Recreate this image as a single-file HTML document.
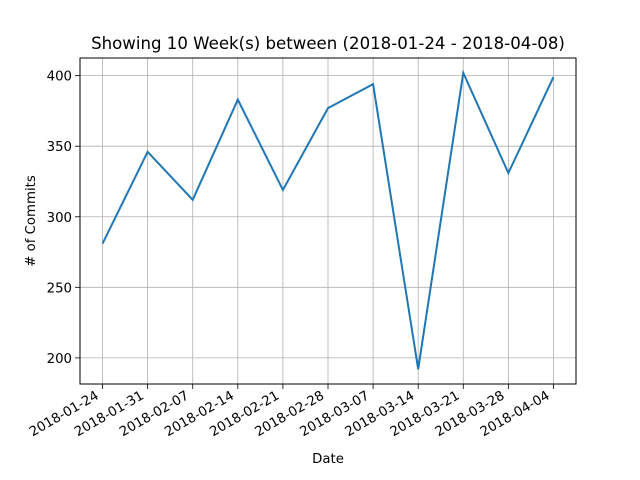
<!DOCTYPE html>
<html><head><meta charset="utf-8"><style>
body{margin:0;background:#fff}
svg{display:block;font-family:"DejaVu Sans","Liberation Sans",sans-serif}
</style></head><body>
<svg id="chart" width="640" height="480">
<rect x="0" y="0" width="640" height="480" fill="#fff"/>
<text x="328" y="49" font-size="16.6" text-anchor="middle">Showing 10 Week(s) between (2018-01-24 - 2018-04-08)</text>
<g id="grid"></g>
<g id="ticks"></g>
<path id="line" fill="none" stroke="#1f77b4" stroke-width="2"/>
<rect x="80" y="58" width="496" height="326" fill="none" stroke="#000" stroke-width="1"/>
<text x="328" y="463" font-size="13.3" text-anchor="middle">Date</text>
<text transform="translate(35,221) rotate(-90)" font-size="13.3" text-anchor="middle"># of Commits</text>
</svg>
<script>
const categories=["2018-01-24","2018-01-31","2018-02-07","2018-02-14","2018-02-21","2018-02-28","2018-03-07","2018-03-14","2018-03-21","2018-03-28","2018-04-04"];
const commits=[281,346,312,383,319,377,394,192,402,331,399];
const yTicks=[200,250,300,350,400];
const L=80,R=576,T=58,B=384;
const ymin=Math.min(...commits),ymax=Math.max(...commits),pad=(ymax-ymin)*0.05;
const y0=ymin-pad,y1=ymax+pad;
const n=categories.length;
const xS=i=>L+(R-L)*(i+0.5)/n;
const yS=v=>B-(v-y0)/(y1-y0)*(B-T);
const NS="http://www.w3.org/2000/svg";
const grid=document.getElementById('grid'),ticks=document.getElementById('ticks');
function mk(tag,attrs,parent){const e=document.createElementNS(NS,tag);for(const k in attrs)e.setAttribute(k,attrs[k]);parent.appendChild(e);return e;}
categories.forEach((c,i)=>{
 const x=xS(i);
 const g=mk('line',{x1:x,x2:x,y1:T,y2:B,stroke:'#b0b0b0','stroke-width':0.8},grid);
 
 
 const t=mk('line',{x1:x,x2:x,y1:B,y2:B+5,stroke:'#000','stroke-width':0.8},ticks);
 
 
 const lb=mk('text',{transform:`translate(${x-3},${B+14}) rotate(-30)`,'font-size':13.3,'text-anchor':'end'},ticks);
 lb.textContent=c;
 
 
});
yTicks.forEach(v=>{
 const y=yS(v);
 const g=mk('line',{x1:L,x2:R,y1:y,y2:y,stroke:'#b0b0b0','stroke-width':0.8},grid);
 
 
 const t=mk('line',{x1:L-5,x2:L,y1:y,y2:y,stroke:'#000','stroke-width':0.8},ticks);
 
 
 const lb=mk('text',{x:L-8,y:y+5,'font-size':13.3,'text-anchor':'end'},ticks);
 lb.textContent=v;
 
 
});
document.getElementById('line').setAttribute('d',commits.map((v,i)=>(i?'L':'M')+xS(i)+','+yS(v)).join(' '));
</script>
</body></html>
